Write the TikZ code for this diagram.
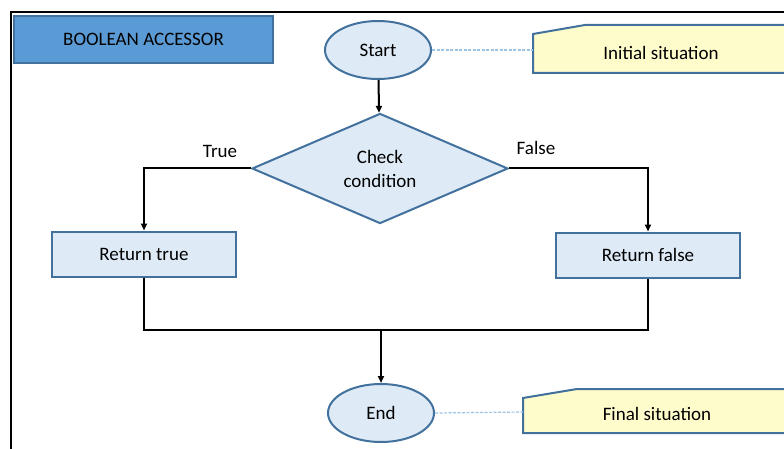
\documentclass[tikz,border=0pt]{standalone}
\usepackage{fontspec}
\setmainfont{Carlito}
\usetikzlibrary{shapes.geometric,arrows.meta}
\definecolor{nodefill}{RGB}{222,234,246}
\definecolor{nodeedge}{RGB}{65,113,156}
\definecolor{titlefill}{RGB}{91,155,213}
\definecolor{calloutfill}{RGB}{255,252,204}
\definecolor{dashcol}{RGB}{157,195,230}
\tikzset{
  txt/.style={font=\fontsize{19}{23}\selectfont},
  termnode/.style={txt,ellipse,draw=nodeedge,fill=nodefill,line width=2pt,minimum width=106pt,minimum height=58pt,inner sep=0pt},
  decnode/.style={diamond,draw=nodeedge,fill=nodefill,line width=2pt,minimum width=256pt,minimum height=110pt,inner sep=0pt,align=center,font=\fontsize{19}{24}\selectfont},
  procnode/.style={txt,rectangle,draw=nodeedge,fill=nodefill,line width=2pt,minimum width=184pt,minimum height=45pt,inner sep=0pt},
  titlenode/.style={txt,rectangle,draw=nodeedge,fill=titlefill,line width=2pt,minimum width=259pt,minimum height=47pt,inner sep=0pt},
  calloutshape/.style={draw=nodeedge,fill=calloutfill,line width=2pt},
  flow/.style={line width=2pt,black},
  flowarrow/.style={flow,-{Triangle[length=7pt,width=6pt]}},
  dashlink/.style={dashcol,line width=1.2pt,dash pattern=on 3pt off 1.5pt},
}
\begin{document}
\begin{tikzpicture}[x=1pt,y=-1pt]
\useasboundingbox (0,0) rectangle (784,449);
\fill[white] (0,0) rectangle (784,449);
% frame
\draw[line width=2.6pt,black] (11,449) -- (11,12) -- (784,12);
% title
\node[titlenode] (title) at (143.5,39.5) {BOOLEAN ACCESSOR};
% callouts
\draw[calloutshape] (533,34) -- (585,25) -- (790,25) -- (790,73) -- (533,73) -- cycle;
\node[txt] (initial) at (661,53) {Initial situation};
\coordinate (initleft) at (533,50);
\draw[calloutshape] (523,398) -- (577,389) -- (790,389) -- (790,433) -- (523,433) -- cycle;
\node[txt] (final) at (657,414) {Final situation};
\coordinate (finalleft) at (523,412);
% nodes
\node[termnode] (start) at (378,50) {Start};
\node[decnode] (check) at (380,168.5) {Check\\condition};
\node[procnode] (rtrue) at (144,254) {Return true};
\node[procnode] (rfalse) at (648,255) {Return false};
\node[termnode] (end) at (381,413) {End};
\coordinate (join) at (381,330);
% connectors
\draw[flowarrow] (start) -- (check);
\draw[flowarrow] (check.west) -| (rtrue.north);
\draw[flowarrow] (check.east) -| (rfalse.north);
\draw[flow] (rtrue.south) |- (join) -| (rfalse.south);
\draw[flowarrow] (join) -- (end);
\draw[dashlink] (start.east) -- (initleft);
\draw[dashlink] (end.east) -- (finalleft);
% labels
\node[txt] (truelbl) at (220,151) {True};
\node[txt] (falselbl) at (536,148) {False};
\end{tikzpicture}
\end{document}
